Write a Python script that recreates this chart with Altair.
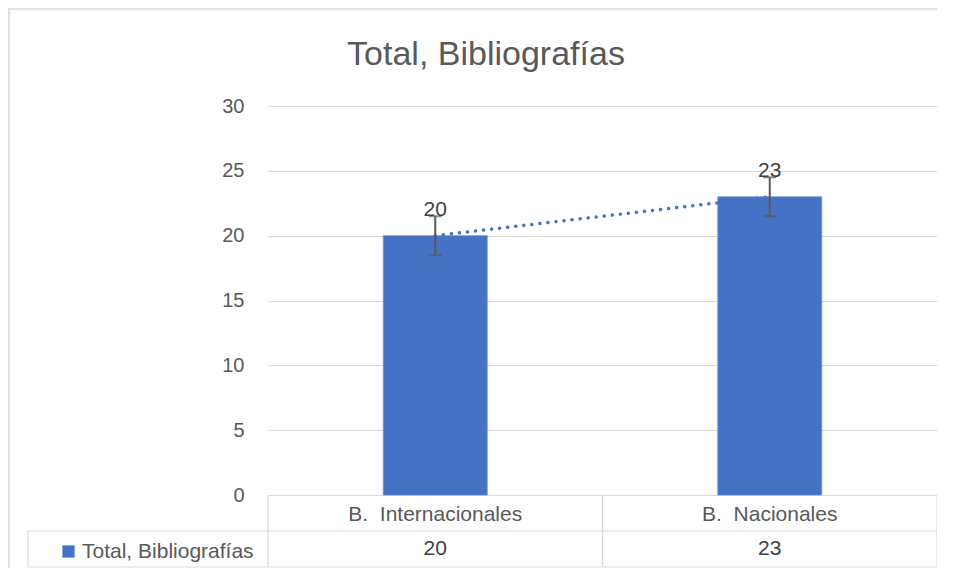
import altair as alt
import pandas as pd

categories = ["B.\u00a0 Internacionales", "B.\u00a0 Nacionales"]
values = [20, 23]
errors = [1.5, 1.5]
series_name = "Total, Bibliografías"
chart_title = "Total, Bibliografías"
y_ticks = [0, 5, 10, 15, 20, 25, 30]

FONT = "Liberation Sans, Arial, sans-serif"
BLUE = "#4472C4"
GRID = "#d9d9d9"
TXT = "#595959"

W, H = 669, 389
R1, R2 = 36, 72  # table row bottoms below the plot

df = pd.DataFrame({"cat": categories, "value": values, "err": errors,
                   "series": [series_name] * len(categories)})

xscale = alt.Scale(domain=categories, paddingInner=0, paddingOuter=0)
yscale = alt.Scale(domain=[0, 30], nice=False)
x_axis = alt.Axis(title=None, domain=False, ticks=False, labelAngle=0,
                  labelFontSize=21, labelColor=TXT, labelFont=FONT,
                  labelPadding=8, labelBaseline="top", labelLimit=0)


def xe(band=None):
    if band is None:
        return alt.X("cat:N", scale=xscale, sort=categories, axis=x_axis)
    return alt.X("cat:N", scale=xscale, sort=categories, axis=x_axis,
                 bandPosition=band)


y_enc = alt.Y("value:Q", scale=yscale,
              axis=alt.Axis(title=None, values=y_ticks, grid=True, gridColor=GRID,
                            gridWidth=1.2, domain=False, ticks=False,
                            labelPadding=24, labelFontSize=20, labelColor=TXT,
                            labelFont=FONT))

base = alt.Chart(df)

bars = base.mark_bar(width=104, stroke="#6f93d6", strokeWidth=0.8).encode(
    x=xe(), y=y_enc,
    color=alt.Color("series:N", scale=alt.Scale(range=[BLUE]),
                    legend=alt.Legend(title=None, orient="none", legendX=-210,
                                      legendY=435, symbolType="square",
                                      symbolSize=150, symbolStrokeWidth=0,
                                      labelFontSize=21, labelFont=FONT,
                                      labelColor=TXT, labelOffset=3,
                                      labelLimit=0, padding=0)))

trend = base.mark_line(color=BLUE, strokeDash=[0.1, 8], strokeCap="round",
                       strokeWidth=3.5).encode(x=xe(), y="value:Q")

err = base.transform_calculate(lo="datum.value - datum.err",
                               hi="datum.value + datum.err")
err_rule = err.mark_rule(color=TXT, strokeWidth=2).encode(
    x=xe(), y="lo:Q", y2="hi:Q")
cap_lo = err.mark_tick(color=TXT, thickness=2, size=13, orient="horizontal").encode(
    x=xe(), y="lo:Q")
cap_hi = err.mark_tick(color=TXT, thickness=2, size=13, orient="horizontal").encode(
    x=xe(), y="hi:Q")

labels = base.mark_text(dy=-26, fontSize=21, color="#404040", font=FONT).encode(
    x=xe(), y="value:Q", text="value:Q")

table_vals = base.mark_text(fontSize=21, color="#404040", font=FONT,
                            baseline="middle").encode(
    x=xe(), y=alt.value(H + (R1 + R2) / 2), text="value:Q")

one = alt.Data(values=[{"t": chart_title}])
title_txt = alt.Chart(one).mark_text(fontSize=34, color=TXT, font=FONT,
                                     baseline="middle", align="center").encode(
    x=alt.value(218), y=alt.value(-51), text="t:N")

vline_start = base.mark_rule(color=GRID, strokeWidth=1.2).encode(
    x=xe(0), y=alt.value(H), y2=alt.value(H + R2))
vline_end = base.mark_rule(color=GRID, strokeWidth=1.2).encode(
    x=xe(1), y=alt.value(H), y2=alt.value(H + R2))
h1 = alt.Chart(one).mark_rule(color=GRID, strokeWidth=1.2).encode(
    x=alt.value(-240), x2=alt.value(W), y=alt.value(H + R1))
h2 = alt.Chart(one).mark_rule(color=GRID, strokeWidth=1.2).encode(
    x=alt.value(-240), x2=alt.value(W), y=alt.value(H + R2))
vleft = alt.Chart(one).mark_rule(color=GRID, strokeWidth=1.2).encode(
    x=alt.value(-240), y=alt.value(H + R1), y2=alt.value(H + R2))
border_top = alt.Chart(one).mark_rule(color=GRID, strokeWidth=1.5).encode(
    x=alt.value(-260), x2=alt.value(W + 20), y=alt.value(-97))
border_left = alt.Chart(one).mark_rule(color=GRID, strokeWidth=1.5).encode(
    x=alt.value(-259), y=alt.value(-98), y2=alt.value(H + 80))

chart = alt.layer(
    border_top, border_left, title_txt, bars, trend, err_rule, cap_lo, cap_hi,
    labels, table_vals, vline_start, vline_end, h1, h2, vleft
).properties(
    width=W, height=H,
    autosize=alt.AutoSizeParams(type="none"),
    padding={"left": 260, "top": 98, "right": 0, "bottom": 73},
).configure_view(stroke=None)

chart.save("out.html", embed_options={"renderer": "svg", "actions": False})
